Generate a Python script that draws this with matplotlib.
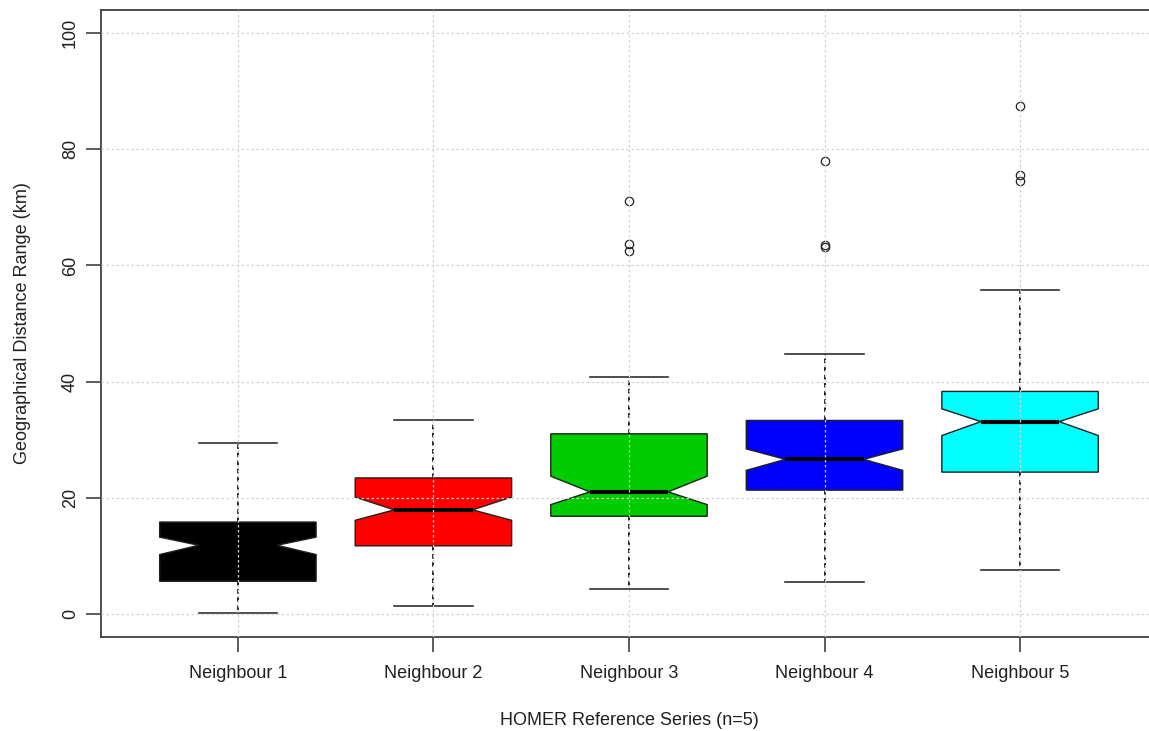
import matplotlib.pyplot as plt
import numpy as np

plt.rcParams['font.family'] = ['Liberation Sans', 'DejaVu Sans']

# summary statistics per neighbour (km)
labels = ["Neighbour 1", "Neighbour 2", "Neighbour 3", "Neighbour 4", "Neighbour 5"]
whislo = [0.2, 1.3, 4.2, 5.4, 7.6]
q1 = [5.6, 11.7, 16.8, 21.3, 24.4]
med = [11.8, 17.9, 21.0, 26.6, 33.1]
q3 = [15.8, 23.4, 31.0, 33.3, 38.3]
whishi = [29.5, 33.3, 40.7, 44.7, 55.7]
notch_lo = [10.2, 16.1, 18.8, 24.7, 30.7]
notch_hi = [13.2, 20.1, 23.7, 28.4, 35.3]
outliers = [[], [], [71.1, 63.7, 62.5], [78.0, 63.6, 63.1], [87.4, 75.5, 74.5]]
colors = ["#000000", "#FF0000", "#00CD00", "#0000FF", "#00FFFF"]

stats = []
for i in range(len(labels)):
    stats.append(dict(label=labels[i], whislo=whislo[i], q1=q1[i], med=med[i],
                      q3=q3[i], whishi=whishi[i], cilo=notch_lo[i],
                      cihi=notch_hi[i], fliers=outliers[i]))

fig = plt.figure(figsize=(11.49, 7.31), dpi=100)
ax = fig.add_axes([0.0879, 0.1286, 0.919, 0.8577])

bp = ax.bxp(stats, positions=range(1, 6), widths=0.8, shownotches=True,
            patch_artist=True,
            boxprops=dict(edgecolor='#202020', linewidth=1.0),
            medianprops=dict(color='black', linewidth=3, solid_capstyle='butt'),
            whiskerprops=dict(color='#101010', linestyle=(0, (2.5, 2)), linewidth=1.3),
            capprops=dict(color='#303030', linewidth=1.2),
            flierprops=dict(marker='o', markersize=6, markerfacecolor='none',
                            markeredgecolor='#202020', markeredgewidth=0.9))
for patch, c in zip(bp['boxes'], colors):
    patch.set_facecolor(c)

ax.set_xlim(0.3, 5.7)
ax.set_ylim(-4, 104)
ax.set_yticks(np.arange(0, 101, 20))
ax.set_xticks(range(1, 6))
ax.set_xticklabels(labels)

ax.grid(True, color='#d3d3d3', linestyle=(0, (2, 2)), linewidth=0.9)
ax.set_axisbelow(False)

for s in ax.spines.values():
    s.set_color('#404040')
    s.set_linewidth(1.3)
ax.tick_params(axis='both', colors='#404040', length=11, width=1.2,
               labelcolor='#202020', labelsize=13)
ax.tick_params(axis='x', pad=9)
ax.tick_params(axis='y', pad=5)
for t in ax.get_yticklabels():
    t.set_rotation(90)
    t.set_va('center')

ax.set_xlabel("HOMER Reference Series (n=5)", fontsize=13, color='#202020', labelpad=22)
ax.set_ylabel("Geographical Distance Range (km)", fontsize=13, color='#202020', labelpad=22)

fig.savefig("out.png", dpi=100)
